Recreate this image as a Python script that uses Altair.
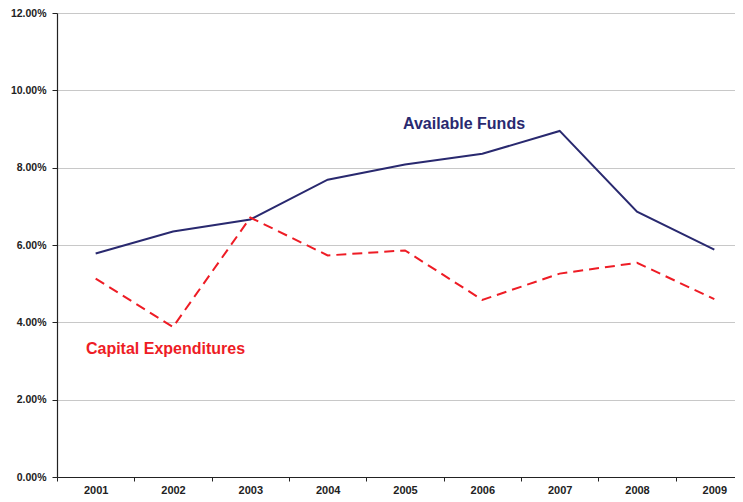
import altair as alt
import pandas as pd

years = ["2001", "2002", "2003", "2004", "2005", "2006", "2007", "2008", "2009"]
available_funds = [5.78, 6.35, 6.66, 7.69, 8.08, 8.36, 8.95, 6.86, 5.88]
capital_expenditures = [5.13, 3.88, 6.71, 5.73, 5.86, 4.58, 5.26, 5.54, 4.60]
y_ticks = [0, 2, 4, 6, 8, 10, 12]

label_names = ["Available Funds", "Capital Expenditures"]
label_years = ["2005", "2002"]
label_values = [9.13, 3.30]

NAVY = "#29296F"
RED = "#EE1C25"
FONT = "Liberation Sans"

df_af = pd.DataFrame({"year": years, "value": available_funds})
df_ce = pd.DataFrame({"year": years, "value": capital_expenditures})
df_lab = pd.DataFrame({"label": label_names, "year": label_years, "value": label_values})

x_scale = alt.Scale(type="band", domain=years, paddingInner=0, paddingOuter=0, range=[0, 696])
x_enc = alt.X(
    "year:O",
    sort=years,
    scale=x_scale,
    axis=alt.Axis(
        title=None, labelAngle=0, tickBand="extent", grid=False,
        labelFont=FONT, labelFontSize=11, labelFontWeight="bold", labelColor="#222222",
        domainColor="#222222", domainWidth=1.2, tickColor="#222222", tickSize=4, labelPadding=3,
    ),
)
y_enc = alt.Y(
    "value:Q",
    scale=alt.Scale(domain=[0, 12], nice=False),
    axis=alt.Axis(
        title=None, values=y_ticks, labelExpr="format(datum.value, '.2f') + '%'",
        grid=True, gridColor="#C8C8C8", gridWidth=1,
        labelFont=FONT, labelFontSize=10.5, labelFontWeight="bold", labelColor="#222222",
        domainColor="#222222", domainWidth=1.2, tickColor="#222222", tickSize=5, labelPadding=6,
    ),
)

line_af = alt.Chart(df_af).mark_line(color=NAVY, strokeWidth=2).encode(x=x_enc, y=y_enc)
line_ce = alt.Chart(df_ce).mark_line(color=RED, strokeWidth=2, strokeDash=[10, 6]).encode(x=x_enc, y=y_enc)

text_af = alt.Chart(df_lab[df_lab["label"] == "Available Funds"]).mark_text(
    font=FONT, fontSize=16, fontWeight="bold", color=NAVY, dx=59, baseline="middle", align="center"
).encode(x=alt.X("year:O", sort=years), y=alt.Y("value:Q"), text="label:N")

text_ce = alt.Chart(df_lab[df_lab["label"] == "Capital Expenditures"]).mark_text(
    font=FONT, fontSize=16, fontWeight="bold", color=RED, dx=-7.5, baseline="middle", align="center"
).encode(x=alt.X("year:O", sort=years), y=alt.Y("value:Q"), text="label:N")

chart = alt.layer(line_af, line_ce, text_af, text_ce).properties(
    width=678,
    height=464,
    autosize=alt.AutoSizeParams(type="none"),
    padding={"left": 49, "top": 5, "right": 0, "bottom": 17},
    background="white",
).configure_view(stroke=None)

chart.save("out.html", embed_options={"renderer": "svg", "actions": False})
